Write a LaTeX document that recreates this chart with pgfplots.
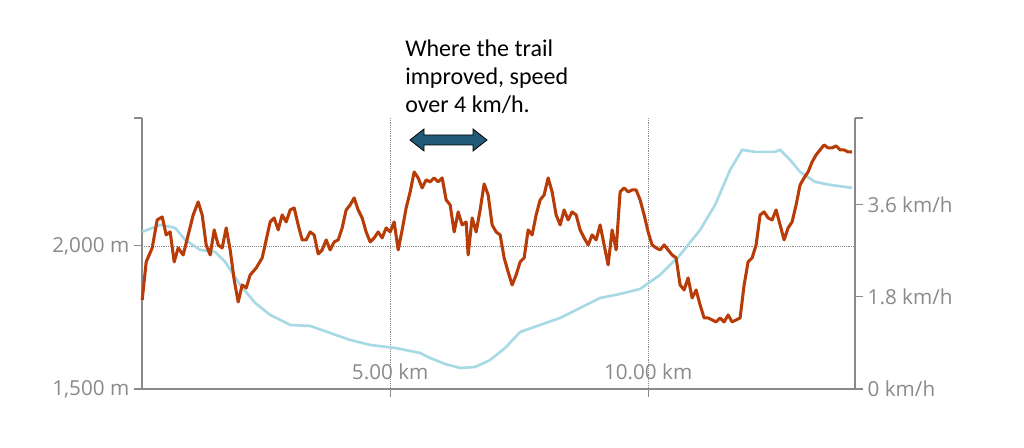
\documentclass[border=0pt]{standalone}
\usepackage{pgfplots}
\pgfplotsset{compat=1.18}
\usepackage{pgfplotstable}
\usepackage{fontspec}
\setmainfont{Open Sans}
\newfontfamily\notefont{Carlito}
\definecolor{elev}{HTML}{A8DAE6}
\definecolor{spd}{HTML}{B83C08}
\definecolor{ax}{HTML}{8A8A8A}
\definecolor{arr}{HTML}{1F5B78}
% pixel coordinates: x px, y px
\pgfplotstableread{
px py
142 232
160 225
175 228
185 240
200 250
215 252
225 262
240 285
255 303
270 315
290 325
310 326
330 333
350 340
370 345
395 348
420 353
430 358
445 364
460 368
475 367
490 360
505 348
520 332
540 325
560 318
580 308
600 298
620 294
640 289
660 275
680 255
700 230
715 205
730 170
742 150
755 152
775 152
780 150
790 160
800 172
815 182
830 185
852 188
}\elevdata
\pgfplotstableread{
px py
142 300
146 262
152 248
157 220
162 217
166 235
170 232
174 262
178 248
183 255
188 235
193 215
198 202
202 215
206 245
210 255
214 230
218 245
222 248
226 228
230 250
234 280
238 302
242 285
246 288
250 275
256 268
262 258
266 240
270 222
274 218
278 230
282 215
286 222
290 210
294 208
298 225
302 240
306 240
310 232
314 235
318 254
322 250
326 240
330 250
334 242
338 240
342 228
346 210
350 205
354 198
358 210
362 218
366 232
370 242
374 238
378 232
382 238
386 228
390 232
394 222
398 250
402 230
406 208
410 192
414 172
418 178
422 188
426 180
430 182
434 178
438 182
442 178
446 200
450 205
454 232
458 212
462 225
466 222
468 255
472 218
476 232
480 210
484 184
488 195
492 225
496 232
500 235
504 258
508 272
512 285
516 275
520 262
524 258
528 230
532 235
536 215
540 200
544 195
548 178
552 192
556 215
560 225
564 210
568 220
572 212
576 215
580 230
584 238
588 245
592 235
596 240
600 225
604 245
608 265
612 230
616 250
620 192
624 188
628 192
632 190
636 190
640 200
644 215
648 232
652 245
656 248
660 250
664 245
668 250
672 255
676 258
680 285
684 290
688 278
692 298
696 290
700 305
704 318
708 318
712 320
716 322
720 318
724 322
728 315
732 322
736 320
740 318
744 285
748 262
752 258
756 245
760 215
764 212
768 218
772 220
776 210
780 225
784 240
788 228
792 222
796 205
800 185
804 178
808 172
812 162
816 155
820 150
824 145
828 148
832 148
836 146
840 150
844 150
848 152
852 152
}\spddata
\begin{document}
\begin{tikzpicture}[x=0.75pt,y=0.75pt]
\useasboundingbox (0,0) rectangle (1024,448);
\pgfplotsset{common/.style={
  scale only axis, width=534.75pt, height=203.25pt,
  at={(106.5pt,44.25pt)}, anchor=south west,
  xmin=0.19, xmax=14.01,
  axis line style={ax, line width=1pt},
  tick style={ax, line width=0.8pt},
  ticklabel style={font=\fontsize{15.5}{17}\selectfont, text=ax},
  clip=false,
}}
\begin{axis}[common,
  axis x line*=bottom, axis y line*=left,
  ymin=1500, ymax=2447,
  ytick={1500,2000}, yticklabels={{1,500 m},{2,000 m}},
  extra y ticks={2447}, extra y tick labels={},
  extra y tick style={grid=none},
  ymajorgrids, grid style={ax, densely dotted, line width=0.6pt},
  xtick={5,10}, xticklabels={5.00 km,10.00 km},
  xmajorgrids,
  xticklabel style={anchor=south, yshift=9pt},
  major tick length=6pt, tick align=outside,
]
\addplot[elev, line width=2pt] table[x expr={5+(\thisrowno{0}-390)/51.6}, y expr={1500+(389-\thisrowno{1})*3.4965}] {\elevdata};
\end{axis}
\begin{axis}[common,
  axis x line=none, axis y line*=right,
  ymin=0, ymax=5.30,
  ytick={0,1.8,3.6,5.30}, yticklabels={0 km/h,1.8 km/h,3.6 km/h,{}},
  major tick length=6pt, tick align=outside,
]
\addplot[spd, line width=2.3pt, line join=round] table[x expr={5+(\thisrowno{0}-390)/51.6}, y expr={(389-\thisrowno{1})/51.11}] {\spddata};
\end{axis}
\node[anchor=north west, align=left, font=\notefont\fontsize{18}{21}\selectfont, inner sep=0pt] at (405,448-40) {Where the trail\\improved, speed\\over 4 km/h.};
\draw[black, fill=arr, line width=0.6pt]
  (410,308) -- (424,319) -- (424,313) -- (473,313) -- (473,319) -- (487,308)
  -- (473,297) -- (473,303) -- (424,303) -- (424,297) -- cycle;
\end{tikzpicture}
\end{document}
